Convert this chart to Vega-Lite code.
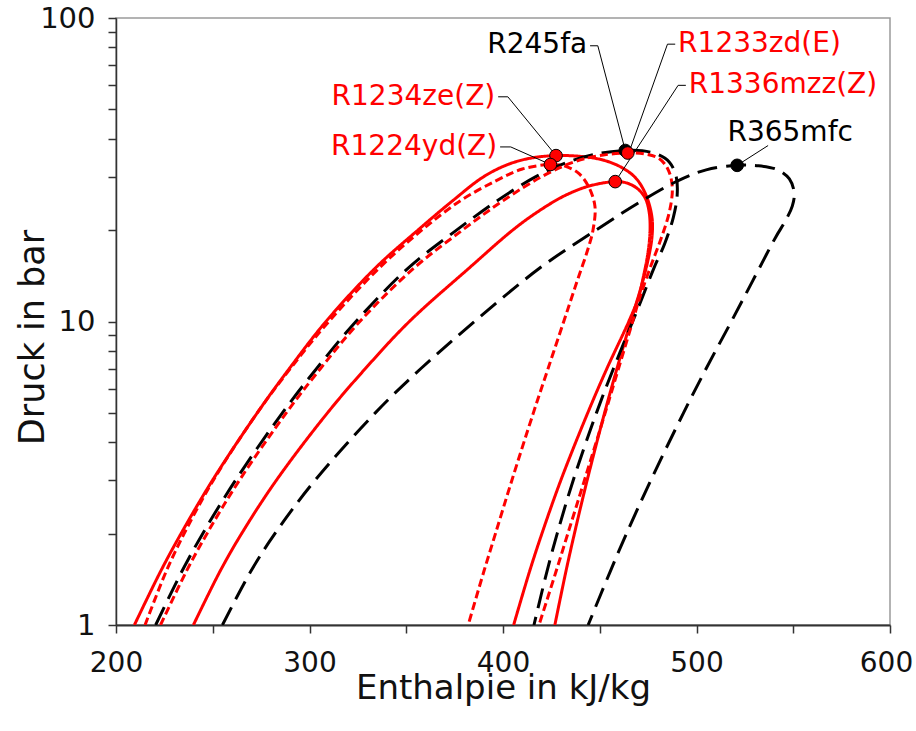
{
  "$schema": "https://vega.github.io/schema/vega-lite/v6.json",
  "width": 774,
  "height": 607,
  "autosize": {"type": "none"},
  "padding": {"left": 116, "top": 18, "right": 26, "bottom": 106},
  "background": "white",
  "config": {"view": {"stroke": "#9a9a9a", "strokeWidth": 1.5}, "font": "DejaVu Sans"},
  "datasets": {
    "curves": [
      {"f":"R1234ze(Z)","i":0,"h":209.5,"p":1},{"f":"R1234ze(Z)","i":1,"h":223,"p":1.5},{"f":"R1234ze(Z)","i":2,"h":233.6,"p":2},{"f":"R1234ze(Z)","i":3,"h":249.9,"p":3},{"f":"R1234ze(Z)","i":4,"h":273,"p":5},{"f":"R1234ze(Z)","i":5,"h":289.6,"p":7},{"f":"R1234ze(Z)","i":6,"h":308.5,"p":10},{"f":"R1234ze(Z)","i":7,"h":334,"p":15},{"f":"R1234ze(Z)","i":8,"h":356,"p":20},{"f":"R1234ze(Z)","i":9,"h":374,"p":25},{"f":"R1234ze(Z)","i":10,"h":390,"p":30},{"f":"R1234ze(Z)","i":11,"h":403,"p":33},{"f":"R1234ze(Z)","i":12,"h":415,"p":34.6},{"f":"R1234ze(Z)","i":13,"h":427.4,"p":35.2},{"f":"R1234ze(Z)","i":14,"h":440,"p":35},{"f":"R1234ze(Z)","i":15,"h":452,"p":34},{"f":"R1234ze(Z)","i":16,"h":462,"p":32},{"f":"R1234ze(Z)","i":17,"h":469,"p":29.5},{"f":"R1234ze(Z)","i":18,"h":474,"p":26},{"f":"R1234ze(Z)","i":19,"h":477,"p":22},{"f":"R1234ze(Z)","i":20,"h":477,"p":19},{"f":"R1234ze(Z)","i":21,"h":475,"p":16},{"f":"R1234ze(Z)","i":22,"h":471.4,"p":13},{"f":"R1234ze(Z)","i":23,"h":466,"p":10},{"f":"R1234ze(Z)","i":24,"h":458.9,"p":7},{"f":"R1234ze(Z)","i":25,"h":452.5,"p":5},{"f":"R1234ze(Z)","i":26,"h":443.5,"p":3},{"f":"R1234ze(Z)","i":27,"h":436.9,"p":2},{"f":"R1234ze(Z)","i":28,"h":432.5,"p":1.5},{"f":"R1234ze(Z)","i":29,"h":426.8,"p":1},

      {"f":"R1224yd(Z)","i":0,"h":215,"p":1},{"f":"R1224yd(Z)","i":1,"h":225.9,"p":1.5},{"f":"R1224yd(Z)","i":2,"h":235.2,"p":2},{"f":"R1224yd(Z)","i":3,"h":250.3,"p":3},{"f":"R1224yd(Z)","i":4,"h":273,"p":5},{"f":"R1224yd(Z)","i":5,"h":290.1,"p":7},{"f":"R1224yd(Z)","i":6,"h":310,"p":10},{"f":"R1224yd(Z)","i":7,"h":336,"p":15},{"f":"R1224yd(Z)","i":8,"h":358,"p":20},{"f":"R1224yd(Z)","i":9,"h":378,"p":25},{"f":"R1224yd(Z)","i":10,"h":396,"p":29},{"f":"R1224yd(Z)","i":11,"h":410,"p":31.8},{"f":"R1224yd(Z)","i":12,"h":424.5,"p":32.9},{"f":"R1224yd(Z)","i":13,"h":432,"p":32.5},{"f":"R1224yd(Z)","i":14,"h":439,"p":30.8},{"f":"R1224yd(Z)","i":15,"h":444,"p":28},{"f":"R1224yd(Z)","i":16,"h":447.5,"p":24},{"f":"R1224yd(Z)","i":17,"h":446.5,"p":20},{"f":"R1224yd(Z)","i":18,"h":443.5,"p":17},{"f":"R1224yd(Z)","i":19,"h":439,"p":14},{"f":"R1224yd(Z)","i":20,"h":435.5,"p":12},{"f":"R1224yd(Z)","i":21,"h":431.4,"p":10},{"f":"R1224yd(Z)","i":22,"h":423.3,"p":7},{"f":"R1224yd(Z)","i":23,"h":415.7,"p":5},{"f":"R1224yd(Z)","i":24,"h":404.6,"p":3},{"f":"R1224yd(Z)","i":25,"h":396.1,"p":2},{"f":"R1224yd(Z)","i":26,"h":390.1,"p":1.5},{"f":"R1224yd(Z)","i":27,"h":382,"p":1},

      {"f":"R245fa","i":0,"h":220.5,"p":1},{"f":"R245fa","i":1,"h":234,"p":1.5},{"f":"R245fa","i":2,"h":244.8,"p":2},{"f":"R245fa","i":3,"h":261.8,"p":3},{"f":"R245fa","i":4,"h":286,"p":5},{"f":"R245fa","i":5,"h":303.7,"p":7},{"f":"R245fa","i":6,"h":324,"p":10},{"f":"R245fa","i":7,"h":351,"p":15},{"f":"R245fa","i":8,"h":376,"p":20},{"f":"R245fa","i":9,"h":397,"p":25},{"f":"R245fa","i":10,"h":417,"p":30},{"f":"R245fa","i":11,"h":434,"p":33.6},{"f":"R245fa","i":12,"h":450,"p":35.8},{"f":"R245fa","i":13,"h":463.2,"p":36.6},{"f":"R245fa","i":14,"h":472,"p":36.5},{"f":"R245fa","i":15,"h":480,"p":35.5},{"f":"R245fa","i":16,"h":486,"p":33.5},{"f":"R245fa","i":17,"h":489.5,"p":30},{"f":"R245fa","i":18,"h":490,"p":26},{"f":"R245fa","i":19,"h":488,"p":22},{"f":"R245fa","i":20,"h":483.5,"p":18},{"f":"R245fa","i":21,"h":478,"p":15},{"f":"R245fa","i":22,"h":472,"p":12},{"f":"R245fa","i":23,"h":467,"p":10},{"f":"R245fa","i":24,"h":457.1,"p":7},{"f":"R245fa","i":25,"h":448.3,"p":5},{"f":"R245fa","i":26,"h":436.3,"p":3},{"f":"R245fa","i":27,"h":428,"p":2},{"f":"R245fa","i":28,"h":422.7,"p":1.5},{"f":"R245fa","i":29,"h":416,"p":1},

      {"f":"R1233zd(E)","i":0,"h":223,"p":1},{"f":"R1233zd(E)","i":1,"h":236.3,"p":1.5},{"f":"R1233zd(E)","i":2,"h":247,"p":2},{"f":"R1233zd(E)","i":3,"h":263.8,"p":3},{"f":"R1233zd(E)","i":4,"h":288,"p":5},{"f":"R1233zd(E)","i":5,"h":305.7,"p":7},{"f":"R1233zd(E)","i":6,"h":326,"p":10},{"f":"R1233zd(E)","i":7,"h":354,"p":15},{"f":"R1233zd(E)","i":8,"h":379,"p":20},{"f":"R1233zd(E)","i":9,"h":400,"p":25},{"f":"R1233zd(E)","i":10,"h":420,"p":30},{"f":"R1233zd(E)","i":11,"h":437,"p":33.6},{"f":"R1233zd(E)","i":12,"h":451,"p":35.3},{"f":"R1233zd(E)","i":13,"h":464.5,"p":35.9},{"f":"R1233zd(E)","i":14,"h":474,"p":35.6},{"f":"R1233zd(E)","i":15,"h":481,"p":34.3},{"f":"R1233zd(E)","i":16,"h":485.5,"p":31.5},{"f":"R1233zd(E)","i":17,"h":487.5,"p":27.5},{"f":"R1233zd(E)","i":18,"h":486,"p":23},{"f":"R1233zd(E)","i":19,"h":482,"p":19},{"f":"R1233zd(E)","i":20,"h":476,"p":15},{"f":"R1233zd(E)","i":21,"h":470.7,"p":12},{"f":"R1233zd(E)","i":22,"h":467,"p":10},{"f":"R1233zd(E)","i":23,"h":459.7,"p":7},{"f":"R1233zd(E)","i":24,"h":452.8,"p":5},{"f":"R1233zd(E)","i":25,"h":442.1,"p":3},{"f":"R1233zd(E)","i":26,"h":433.5,"p":2},{"f":"R1233zd(E)","i":27,"h":427.4,"p":1.5},{"f":"R1233zd(E)","i":28,"h":418.6,"p":1},

      {"f":"R1336mzz(Z)","i":0,"h":240,"p":1},{"f":"R1336mzz(Z)","i":1,"h":253.7,"p":1.5},{"f":"R1336mzz(Z)","i":2,"h":264.9,"p":2},{"f":"R1336mzz(Z)","i":3,"h":282.9,"p":3},{"f":"R1336mzz(Z)","i":4,"h":309.3,"p":5},{"f":"R1336mzz(Z)","i":5,"h":328.9,"p":7},{"f":"R1336mzz(Z)","i":6,"h":351.6,"p":10},{"f":"R1336mzz(Z)","i":7,"h":382.5,"p":15},{"f":"R1336mzz(Z)","i":8,"h":405,"p":20},{"f":"R1336mzz(Z)","i":9,"h":418,"p":23},{"f":"R1336mzz(Z)","i":10,"h":432,"p":26},{"f":"R1336mzz(Z)","i":11,"h":445,"p":28},{"f":"R1336mzz(Z)","i":12,"h":458,"p":28.9},{"f":"R1336mzz(Z)","i":13,"h":464,"p":28.6},{"f":"R1336mzz(Z)","i":14,"h":469.5,"p":27.4},{"f":"R1336mzz(Z)","i":15,"h":473.5,"p":25.5},{"f":"R1336mzz(Z)","i":16,"h":475.5,"p":23},{"f":"R1336mzz(Z)","i":17,"h":476,"p":20},{"f":"R1336mzz(Z)","i":18,"h":475,"p":17},{"f":"R1336mzz(Z)","i":19,"h":472.5,"p":14},{"f":"R1336mzz(Z)","i":20,"h":470,"p":12},{"f":"R1336mzz(Z)","i":21,"h":465,"p":10},{"f":"R1336mzz(Z)","i":22,"h":453.7,"p":7},{"f":"R1336mzz(Z)","i":23,"h":443.8,"p":5},{"f":"R1336mzz(Z)","i":24,"h":429.9,"p":3},{"f":"R1336mzz(Z)","i":25,"h":420.1,"p":2},{"f":"R1336mzz(Z)","i":26,"h":413.7,"p":1.5},{"f":"R1336mzz(Z)","i":27,"h":405.5,"p":1},

      {"f":"R365mfc","i":0,"h":255,"p":1},{"f":"R365mfc","i":1,"h":269.6,"p":1.5},{"f":"R365mfc","i":2,"h":282.1,"p":2},{"f":"R365mfc","i":3,"h":302.9,"p":3},{"f":"R365mfc","i":4,"h":334,"p":5},{"f":"R365mfc","i":5,"h":357.6,"p":7},{"f":"R365mfc","i":6,"h":385.3,"p":10},{"f":"R365mfc","i":7,"h":419,"p":15},{"f":"R365mfc","i":8,"h":448,"p":20},{"f":"R365mfc","i":9,"h":471,"p":24.8},{"f":"R365mfc","i":10,"h":490,"p":29},{"f":"R365mfc","i":11,"h":505,"p":31.6},{"f":"R365mfc","i":12,"h":521,"p":32.7},{"f":"R365mfc","i":13,"h":532,"p":32.6},{"f":"R365mfc","i":14,"h":542,"p":31.6},{"f":"R365mfc","i":15,"h":548,"p":29.5},{"f":"R365mfc","i":16,"h":550.5,"p":26.5},{"f":"R365mfc","i":17,"h":549.5,"p":24},{"f":"R365mfc","i":18,"h":546,"p":21.5},{"f":"R365mfc","i":19,"h":541,"p":19},{"f":"R365mfc","i":20,"h":532.5,"p":15},{"f":"R365mfc","i":21,"h":526,"p":12.5},{"f":"R365mfc","i":22,"h":518,"p":10},{"f":"R365mfc","i":23,"h":505,"p":7},{"f":"R365mfc","i":24,"h":493.3,"p":5},{"f":"R365mfc","i":25,"h":476.4,"p":3},{"f":"R365mfc","i":26,"h":463.8,"p":2},{"f":"R365mfc","i":27,"h":455.4,"p":1.5},{"f":"R365mfc","i":28,"h":444,"p":1}
    ],
    "crit": [
      {"f":"R1234ze(Z)","h":427.4,"p":35.2},
      {"f":"R1224yd(Z)","h":424.5,"p":32.9},
      {"f":"R245fa","h":463.2,"p":36.6},
      {"f":"R1233zd(E)","h":464.5,"p":35.9},
      {"f":"R1336mzz(Z)","h":458,"p":28.9},
      {"f":"R365mfc","h":521,"p":32.7}
    ],
    "leaders": [
      {"id":"a","i":0,"h":445,"p":81},{"id":"a","i":1,"h":449,"p":81},{"id":"a","i":2,"h":463.2,"p":36.6},
      {"id":"b","i":0,"h":489,"p":82},{"id":"b","i":1,"h":485,"p":82},{"id":"b","i":2,"h":465,"p":35.9},
      {"id":"c","i":0,"h":494.5,"p":60},{"id":"c","i":1,"h":490.5,"p":60},{"id":"c","i":2,"h":458,"p":28.9},
      {"id":"d","i":0,"h":397.5,"p":55},{"id":"d","i":1,"h":402.5,"p":55},{"id":"d","i":2,"h":427.4,"p":35.2},
      {"id":"e","i":0,"h":398.5,"p":37.6},{"id":"e","i":1,"h":404,"p":37.6},{"id":"e","i":2,"h":424.5,"p":32.9},
      {"id":"f","i":0,"h":537,"p":38},{"id":"f","i":1,"h":521,"p":32.7}
    ],
    "labels": [
      {"f":"R245fa","h":443.5,"p":81.5},
      {"f":"R1233zd(E)","h":490.5,"p":82},
      {"f":"R1336mzz(Z)","h":496,"p":60},
      {"f":"R1234ze(Z)","h":396,"p":55},
      {"f":"R365mfc","h":516,"p":41.8},
      {"f":"R1224yd(Z)","h":397,"p":37.6}
    ]
  },
  "encoding": {
    "x": {
      "field": "h", "type": "quantitative",
      "scale": {"domain": [200, 600], "nice": false, "zero": false},
      "axis": {
        "title": "Enthalpie in kJ/kg",
        "values": [200,250,300,350,400,450,500,550,600],
        "labelExpr": "datum.value % 100 === 0 ? datum.label : ''",
        "grid": false, "tickSize": 8, "tickWidth": 1.5, "tickColor": "#333",
        "domainColor": "#333", "domainWidth": 2,
        "labelFont": "DejaVu Sans", "labelFontSize": 28, "labelColor": "#111",
        "labelBaseline": "alphabetic", "labelPadding": 38,
        "labelOffset": {"expr": "datum.value == 600 ? -4 : 0"},
        "labelFlush": false, "labelOverlap": false,
        "titleFont": "DejaVu Sans", "titleFontSize": 34, "titleFontWeight": "normal", "titleColor": "#111",
        "titleBaseline": "alphabetic", "titleY": 73
      }
    },
    "y": {
      "field": "p", "type": "quantitative",
      "scale": {"type": "log", "domain": [1, 100], "nice": false},
      "axis": {
        "title": "Druck in bar",
        "values": [1,2,3,4,5,6,7,8,9,10,20,30,40,50,60,70,80,90,100],
        "labelExpr": "datum.value == 1 || datum.value == 10 || datum.value == 100 ? format(datum.value, 'd') : ''",
        "grid": false, "tickSize": 8, "tickWidth": 1.5, "tickColor": "#333",
        "domainColor": "#333", "domainWidth": 1.5,
        "labelFont": "DejaVu Sans", "labelFontSize": 29, "labelColor": "#111",
        "labelPadding": 13, "labelFlush": false, "labelOverlap": false,
        "titleFont": "DejaVu Sans", "titleFontSize": 35, "titleFontWeight": "normal", "titleColor": "#111",
        "titleBaseline": "alphabetic", "titleX": -73, "titleY": 319, "titleAngle": -90
      }
    },
    "color": {
      "field": "f", "type": "nominal", "legend": null,
      "scale": {
        "domain": ["R1234ze(Z)","R1224yd(Z)","R245fa","R1233zd(E)","R1336mzz(Z)","R365mfc"],
        "range": ["#ff0000","#ff0000","#000000","#ff0000","#ff0000","#000000"]
      }
    }
  },
  "layer": [
    {
      "data": {"name": "curves"},
      "mark": {"type": "line", "strokeWidth": 3, "interpolate": "catmull-rom", "clip": true},
      "encoding": {
        "order": {"field": "i", "type": "quantitative"},
        "strokeDash": {
          "field": "f", "type": "nominal", "legend": null,
          "scale": {
            "domain": ["R1234ze(Z)","R1224yd(Z)","R245fa","R1233zd(E)","R1336mzz(Z)","R365mfc"],
            "range": [[1,0],[8,4],[20,9],[8,4],[1,0],[20,9]]
          }
        }
      }
    },
    {
      "data": {"name": "leaders"},
      "mark": {"type": "line", "strokeWidth": 1, "color": "#000"},
      "encoding": {
        "color": {"value": "#000"},
        "detail": {"field": "id", "type": "nominal"},
        "order": {"field": "i", "type": "quantitative"}
      }
    },
    {
      "data": {"name": "crit"},
      "mark": {"type": "point", "filled": true, "size": 160, "stroke": "#000", "strokeWidth": 1, "opacity": 1}
    },
    {
      "data": {"name": "labels"},
      "transform": [{"filter": "indexof(['R245fa','R1234ze(Z)','R1224yd(Z)'], datum.f) >= 0"}],
      "mark": {"type": "text", "align": "right", "baseline": "middle", "font": "DejaVu Sans", "fontSize": 28},
      "encoding": {"text": {"field": "f"}}
    },
    {
      "data": {"name": "labels"},
      "transform": [{"filter": "indexof(['R245fa','R1234ze(Z)','R1224yd(Z)'], datum.f) < 0"}],
      "mark": {"type": "text", "align": "left", "baseline": "middle", "font": "DejaVu Sans", "fontSize": 28},
      "encoding": {"text": {"field": "f"}}
    }
  ]
}
